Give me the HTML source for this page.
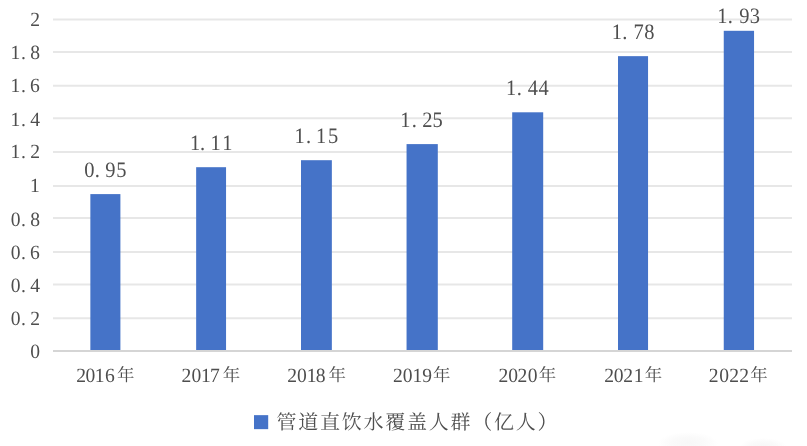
<!DOCTYPE html>
<html lang="zh-CN">
<head>
<meta charset="utf-8">
<title>管道直饮水覆盖人群（亿人）</title>
<style>
html,body{margin:0;padding:0;background:#fff;}
body{width:807px;height:446px;overflow:hidden;font-family:"Liberation Serif",serif;}
svg{display:block;filter:blur(0.4px);}
text{text-rendering:geometricPrecision;}
</style>
</head>
<body>
<svg width="807" height="446" viewBox="0 0 807 446">
<rect width="807" height="446" fill="#fff"/>
<g stroke="#e7e7e7" stroke-width="2">
<line x1="53.0" y1="19.4" x2="792.0" y2="19.4"/>
<line x1="53.0" y1="51.9" x2="792.0" y2="51.9"/>
<line x1="53.0" y1="85.7" x2="792.0" y2="85.7"/>
<line x1="53.0" y1="118.2" x2="792.0" y2="118.2"/>
<line x1="53.0" y1="152" x2="792.0" y2="152"/>
<line x1="53.0" y1="185.9" x2="792.0" y2="185.9"/>
<line x1="53.0" y1="218.1" x2="792.0" y2="218.1"/>
<line x1="53.0" y1="252" x2="792.0" y2="252"/>
<line x1="53.0" y1="284.6" x2="792.0" y2="284.6"/>
<line x1="53.0" y1="318.2" x2="792.0" y2="318.2"/>
</g>
<g fill="#4573c8">
<rect x="90.35" y="194.1" width="30.05" height="156"/>
<rect x="196.15" y="167.2" width="29.9" height="182.9"/>
<rect x="301" y="160.2" width="30.85" height="189.9"/>
<rect x="406.55" y="144.1" width="31.25" height="206"/>
<rect x="512.2" y="112.3" width="31" height="237.8"/>
<rect x="618" y="56.15" width="30.05" height="293.95"/>
<rect x="723.75" y="30.8" width="30.3" height="319.3"/>
</g>
<line x1="53.0" y1="351" x2="792.0" y2="351" stroke="#d5d5d5" stroke-width="2"/>
<g fill="#4e4e4e" font-family="'Liberation Serif', serif">
<text transform="scale(0.97,1)" x="31.25" y="26.05" font-size="20.2">2</text>
<text transform="scale(0.97,1)" x="10.85 21.6 31.14" y="59.45" font-size="20.2">1.8</text>
<text transform="scale(0.97,1)" x="10.85 21.6 31" y="92.25" font-size="20.2">1.6</text>
<text transform="scale(0.97,1)" x="10.85 21.6 31.1" y="126.15" font-size="20.2">1.4</text>
<text transform="scale(0.97,1)" x="10.85 21.6 31.25" y="158.25" font-size="20.2">1.2</text>
<text transform="scale(0.97,1)" x="30.85" y="191.85" font-size="20.2">1</text>
<text transform="scale(0.97,1)" x="11.14 21.6 31.14" y="225.85" font-size="20.2">0.8</text>
<text transform="scale(0.97,1)" x="11.14 21.6 31" y="258.65" font-size="20.2">0.6</text>
<text transform="scale(0.97,1)" x="11.14 21.6 31.1" y="292.35" font-size="20.2">0.4</text>
<text transform="scale(0.97,1)" x="11.14 21.6 31.25" y="324.65" font-size="20.2">0.2</text>
<text transform="scale(0.97,1)" x="31.14" y="358.05" font-size="20.2">0</text>
<text transform="scale(0.97,1)" x="78.7 88.15 97.66 108.17" y="381.95" font-size="20.2">2016</text>
<text transform="scale(0.97,1)" x="187.15 197.42 207.14 216.38" y="381.95" font-size="20.2">2017</text>
<text transform="scale(0.97,1)" x="296.04 306.08 316.22 325.62" y="381.95" font-size="20.2">2018</text>
<text transform="scale(0.97,1)" x="405.11 415.21 425.29 435.24" y="381.95" font-size="20.2">2019</text>
<text transform="scale(0.97,1)" x="513.98 523.87 533.57 544.07" y="381.95" font-size="20.2">2020</text>
<text transform="scale(0.97,1)" x="622.85 632.73 642.64 653.43" y="381.95" font-size="20.2">2021</text>
<text transform="scale(0.97,1)" x="730.79 741.5 751.82 762.02" y="381.95" font-size="20.2">2022</text>
<text transform="scale(0.93,1)" x="90.68 101.77 113.25 124.88" y="176.85" font-size="22.0">0.95</text>
<text transform="scale(0.93,1)" x="204.19 215.1 226.34 239.03" y="149.85" font-size="22.0">1.11</text>
<text transform="scale(0.93,1)" x="316.77 329.08 339.89 352.62" y="142.95" font-size="22.0">1.15</text>
<text transform="scale(0.93,1)" x="430.32 442.73 454.14 465.1" y="126.95" font-size="22.0">1.25</text>
<text transform="scale(0.93,1)" x="544.09 555.64 567.52 579.03" y="95.05" font-size="22.0">1.44</text>
<text transform="scale(0.93,1)" x="657.85 669.08 681.13 692.62" y="39.15" font-size="22.0">1.78</text>
<text transform="scale(0.93,1)" x="771.29 782.63 794.97 806.12" y="22.95" font-size="22.0">1.93</text>
</g>
<defs>
<radialGradient id="sm"><stop offset="0" stop-color="#f7f7f7"/><stop offset="0.55" stop-color="#fafafa"/><stop offset="1" stop-color="#fff"/></radialGradient>
</defs>
<g fill="#4e4e4e" font-family="'Liberation Serif', 'Noto Serif CJK SC', serif" font-size="17.5">
<text x="116.9" y="381.3">年</text>
<text x="222.7" y="381.3">年</text>
<text x="328.5" y="381.3">年</text>
<text x="433.1" y="381.3">年</text>
<text x="538.7" y="381.3">年</text>
<text x="644.7" y="381.3">年</text>
<text x="750.2" y="381.3">年</text>
</g>
<rect x="254" y="415.15" width="14.2" height="14" fill="#4573c8"/>
<g fill="#4e4e4e" font-family="'Liberation Serif', 'Noto Serif CJK SC', serif" font-size="20">
<text x="276.4" y="428.6" textLength="281" lengthAdjust="spacing">管道直饮水覆盖人群（亿人）</text>
</g>
<ellipse cx="688" cy="443" rx="30" ry="11" fill="url(#sm)"/>
<ellipse cx="763" cy="446" rx="23" ry="8" fill="url(#sm)"/>
</svg>
</body>
</html>
